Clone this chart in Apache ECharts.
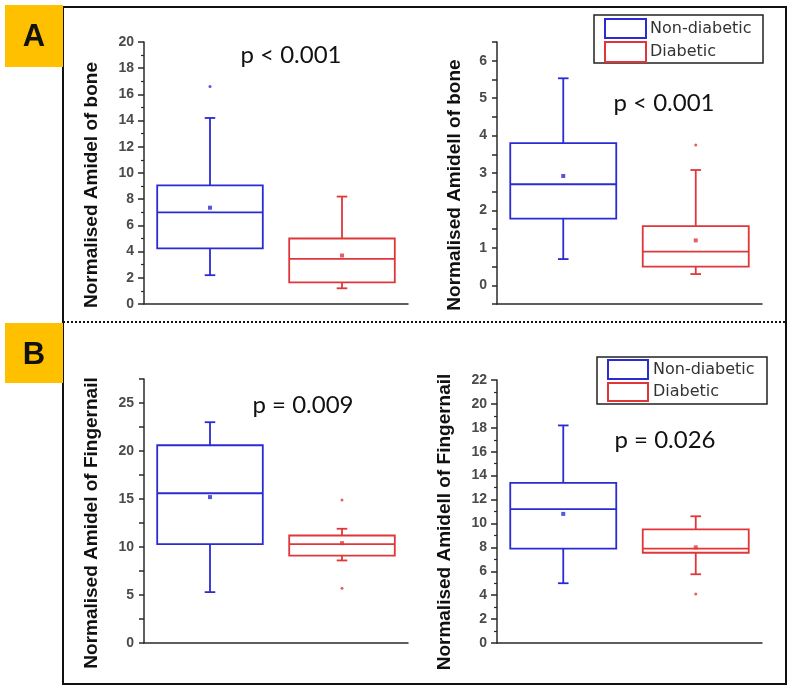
<!DOCTYPE html>
<html>
<head>
<meta charset="utf-8">
<script src="https://cdn.jsdelivr.net/npm/echarts@6/dist/echarts.min.js"></script>
<style>
html,body{margin:0;padding:0;background:#fff;}
#chart{width:800px;height:691px;}
</style>
</head>
<body>
<div id="chart"></div>
<script>
// ---------- data ----------
const categories = ['Non-diabetic', 'Diabetic'];
// box stats: [whiskerLow, Q1, median, Q3, whiskerHigh]
const boneI_nonDiabetic = [2.2, 4.25, 7.0, 9.05, 14.2];
const boneI_diabetic    = [1.2, 1.65, 3.45, 5.0, 8.2];
const boneI_means       = [7.35, 3.7];
const boneI_outliers    = [[0, 16.6]];

const boneII_nonDiabetic = [0.7, 1.78, 2.7, 3.8, 5.53];
const boneII_diabetic    = [0.3, 0.5, 0.9, 1.58, 3.08];
const boneII_means       = [2.92, 1.2];
const boneII_outliers    = [[1, 3.75]];

const nailI_nonDiabetic = [5.3, 10.3, 15.6, 20.6, 23.0];
const nailI_diabetic    = [8.6, 9.1, 10.3, 11.2, 11.9];
const nailI_means       = [15.2, 10.4];
const nailI_outliers    = [[1, 14.9], [1, 5.7]];

const nailII_nonDiabetic = [5.0, 7.9, 11.2, 13.4, 18.2];
const nailII_diabetic    = [5.75, 7.55, 7.9, 9.5, 10.6];
const nailII_means       = [10.8, 8.0];
const nailII_outliers    = [[1, 4.1]];

const yTitles = ['Normalised Amidel of bone', 'Normalised Amidell of bone',
                 'Normalised Amidel of Fingernail', 'Normalised Amidell of Fingernail'];
const pTexts = ['p < 0.001', 'p < 0.001', 'p = 0.009', 'p = 0.026'];
const legendNames = ['Non-diabetic', 'Diabetic'];

// ---------- style ----------
const colors = ['#2b2bd4', '#e0363a'];
const axisColor = '#2a2a2a';

const panels = [
  {nd: boneI_nonDiabetic, d: boneI_diabetic, means: boneI_means, out: boneI_outliers,
   grid: {left: 144, top: 42, width: 264, height: 262},
   y: {min: 0, max: 20, interval: 2, minor: true}},
  {nd: boneII_nonDiabetic, d: boneII_diabetic, means: boneII_means, out: boneII_outliers,
   grid: {left: 497, top: 42, width: 265, height: 262},
   y: {min: -0.5, max: 6.5, interval: 0.5, minor: false, labelStep: 1}},
  {nd: nailI_nonDiabetic, d: nailI_diabetic, means: nailI_means, out: nailI_outliers,
   grid: {left: 144, top: 379, width: 264, height: 264},
   y: {min: 0, max: 27.5, interval: 2.5, minor: false, labelStep: 5}},
  {nd: nailII_nonDiabetic, d: nailII_diabetic, means: nailII_means, out: nailII_outliers,
   grid: {left: 497, top: 380, width: 265, height: 263},
   y: {min: 0, max: 22, interval: 2, minor: true}}
];

function renderBox(params, api) {
  const cat = api.value(0);
  const lo = api.value(1), q1 = api.value(2), med = api.value(3), q3 = api.value(4), hi = api.value(5);
  const color = colors[cat];
  const bw = api.size([1, 0])[0];
  const half = bw * 0.4;
  const cap = bw * 0.04;
  const pLo = api.coord([cat, lo]);
  const pQ1 = api.coord([cat, q1]);
  const pMed = api.coord([cat, med]);
  const pQ3 = api.coord([cat, q3]);
  const pHi = api.coord([cat, hi]);
  const x = pMed[0];
  const st = {stroke: color, lineWidth: 1.8, fill: null};
  return {
    type: 'group',
    children: [
      {type: 'rect', shape: {x: x - half, y: pQ3[1], width: half * 2, height: pQ1[1] - pQ3[1]}, style: st},
      {type: 'line', shape: {x1: x - half, y1: pMed[1], x2: x + half, y2: pMed[1]}, style: st},
      {type: 'line', shape: {x1: x, y1: pQ1[1], x2: x, y2: pLo[1]}, style: st},
      {type: 'line', shape: {x1: x, y1: pQ3[1], x2: x, y2: pHi[1]}, style: st},
      {type: 'line', shape: {x1: x - cap, y1: pLo[1], x2: x + cap, y2: pLo[1]}, style: st},
      {type: 'line', shape: {x1: x - cap, y1: pHi[1], x2: x + cap, y2: pHi[1]}, style: st}
    ]
  };
}

const grids = [], xAxes = [], yAxes = [], series = [];
panels.forEach((p, i) => {
  grids.push(Object.assign({containLabel: false}, p.grid));
  xAxes.push({
    type: 'category', gridIndex: i, data: categories, boundaryGap: true,
    axisLine: {onZero: false, lineStyle: {color: axisColor, width: 1.5}},
    axisTick: {alignWithLabel: true, length: 6, lineStyle: {color: axisColor, width: 1.5}},
    axisLabel: {show: false}, splitLine: {show: false}
  });
  const step = p.y.labelStep;
  yAxes.push({
    type: 'value', gridIndex: i, min: p.y.min, max: p.y.max, interval: p.y.interval,
    axisLine: {show: true, onZero: false, lineStyle: {color: axisColor, width: 1.5}},
    axisTick: {show: true, inside: false, length: p.y.minor ? 6 : 5, lineStyle: {color: axisColor, width: 1.5}},
    minorTick: {show: p.y.minor, splitNumber: 2, length: 3, lineStyle: {color: axisColor, width: 1.2}},
    minorSplitLine: {show: false},
    splitLine: {show: false},
    axisLabel: {
      margin: 10, fontFamily: 'Liberation Sans', fontWeight: 'bold', fontSize: 14, color: '#4a4a4a',
      formatter: function (v) {
        if (step) {
          const r = v / step;
          return Math.abs(r - Math.round(r)) < 1e-6 ? String(Math.round(v)) : '';
        }
        return String(v);
      }
    }
  });
  series.push({
    type: 'custom', xAxisIndex: i, yAxisIndex: i,
    renderItem: renderBox,
    encode: {x: 0, y: [1, 2, 3, 4, 5]},
    data: [[0].concat(p.nd), [1].concat(p.d)],
    silent: true
  });
  series.push({
    type: 'scatter', xAxisIndex: i, yAxisIndex: i, symbol: 'rect', symbolSize: 4,
    data: p.means.map((m, k) => ({value: [k, m], itemStyle: {color: colors[k]}})),
    silent: true, z: 5
  });
  series.push({
    type: 'scatter', xAxisIndex: i, yAxisIndex: i, symbol: 'circle', symbolSize: 3,
    data: p.out.map(o => ({value: o, itemStyle: {color: colors[o[0]]}})),
    silent: true, z: 5
  });
});

const pFont = {fontFamily: 'Lato', fontSize: 24, fill: '#111'};
const pPos = [[291, 55], [664, 103], [303, 405], [665, 440]];
const titlePos = [[92, 185], [455, 185], [92, 523], [445, 522]];

function legendGroup(x0, y0, x1, y1, rb, rr, tx) {
  return [
    {type: 'rect', shape: {x: x0, y: y0, width: x1 - x0, height: y1 - y0}, style: {fill: '#fff', stroke: '#222', lineWidth: 1.5}, z: 10},
    {type: 'rect', shape: {x: rb[0], y: rb[1], width: rb[2] - rb[0], height: rb[3] - rb[1]}, style: {fill: null, stroke: colors[0], lineWidth: 2}, z: 11},
    {type: 'rect', shape: {x: rr[0], y: rr[1], width: rr[2] - rr[0], height: rr[3] - rr[1]}, style: {fill: null, stroke: colors[1], lineWidth: 2}, z: 11},
    {type: 'text', x: tx, y: (rb[1] + rb[3]) / 2, style: {text: legendNames[0], fontFamily: 'DejaVu Sans', fontSize: 16, fill: '#333', verticalAlign: 'middle'}, z: 11},
    {type: 'text', x: tx, y: (rr[1] + rr[3]) / 2, style: {text: legendNames[1], fontFamily: 'DejaVu Sans', fontSize: 16, fill: '#333', verticalAlign: 'middle'}, z: 11}
  ];
}

const graphics = [
  {type: 'rect', shape: {x: 63, y: 7, width: 723, height: 677}, style: {fill: null, stroke: '#111', lineWidth: 2}, z: 1},
  {type: 'line', shape: {x1: 63, y1: 322, x2: 786, y2: 322}, style: {stroke: '#111', lineWidth: 2, lineDash: [2, 2]}, z: 1},
  {type: 'rect', shape: {x: 5, y: 5, width: 58, height: 62}, style: {fill: '#FFC000'}, z: 2},
  {type: 'text', x: 34, y: 37, style: {text: 'A', fontFamily: 'Liberation Sans', fontWeight: 'bold', fontSize: 31, fill: '#111', align: 'center', verticalAlign: 'middle'}, z: 3},
  {type: 'rect', shape: {x: 5, y: 323, width: 58, height: 60}, style: {fill: '#FFC000'}, z: 2},
  {type: 'text', x: 34, y: 355, style: {text: 'B', fontFamily: 'Liberation Sans', fontWeight: 'bold', fontSize: 31, fill: '#111', align: 'center', verticalAlign: 'middle'}, z: 3}
];
yTitles.forEach((t, i) => {
  graphics.push({type: 'text', x: titlePos[i][0], y: titlePos[i][1], rotation: Math.PI / 2,
    style: {text: t, fontFamily: 'Liberation Sans', fontWeight: 'bold', fontSize: 19, fill: '#111', align: 'center', verticalAlign: 'middle'}, z: 5});
});
pTexts.forEach((t, i) => {
  graphics.push({type: 'text', x: pPos[i][0], y: pPos[i][1],
    style: Object.assign({text: t, align: 'center', verticalAlign: 'middle'}, pFont), z: 5});
});
legendGroup(594, 15, 763, 63, [605, 19, 646, 38], [605, 42, 646, 62], 650).forEach(g => graphics.push(g));
legendGroup(597, 357, 767, 404, [608, 360, 648, 379], [608, 383, 648, 401], 653).forEach(g => graphics.push(g));

const chart = echarts.init(document.getElementById('chart'), null, {renderer: 'canvas'});
chart.setOption({
  animation: false,
  backgroundColor: '#fff',
  grid: grids,
  xAxis: xAxes,
  yAxis: yAxes,
  series: series,
  graphic: graphics
});
</script>
</body>
</html>
